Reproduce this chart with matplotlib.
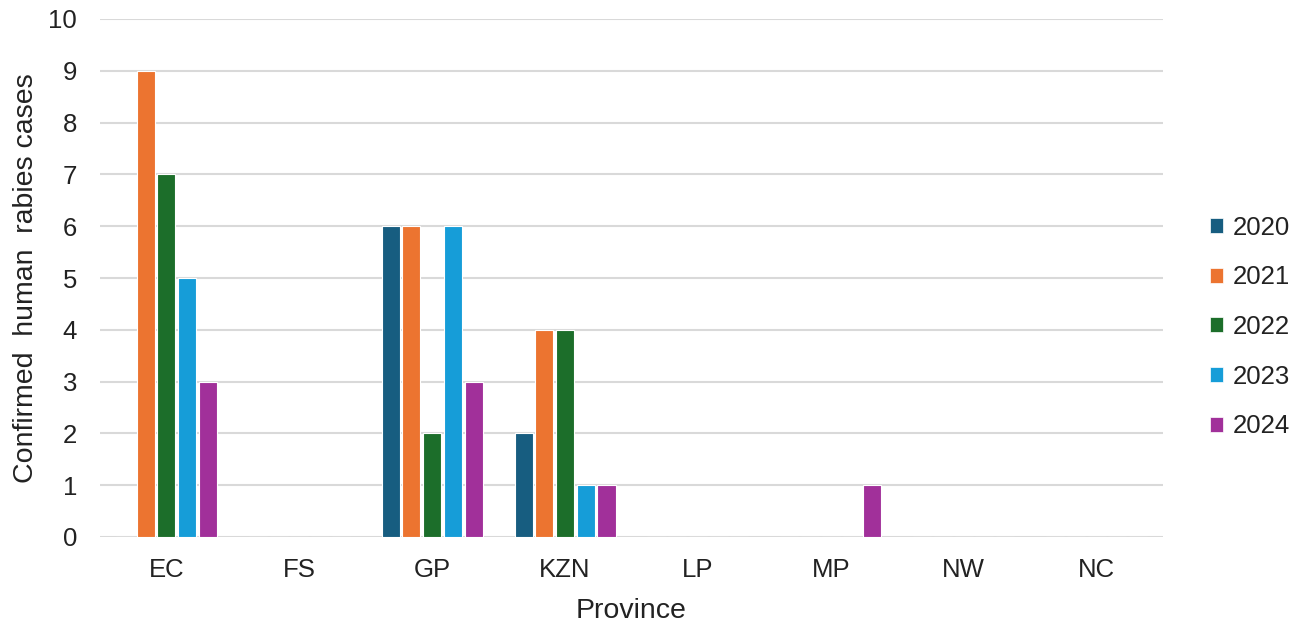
import matplotlib
matplotlib.use("Agg")
import matplotlib.pyplot as plt
import numpy as np
from matplotlib.patches import Patch

provinces = ["EC", "FS", "GP", "KZN", "LP", "MP", "NW", "NC"]
years = ["2020", "2021", "2022", "2023", "2024"]
cases_2020 = [0, 0, 6, 2, 0, 0, 0, 0]
cases_2021 = [9, 0, 6, 4, 0, 0, 0, 0]
cases_2022 = [7, 0, 2, 4, 0, 0, 0, 0]
cases_2023 = [5, 0, 6, 1, 0, 0, 0, 0]
cases_2024 = [3, 0, 3, 1, 0, 1, 0, 0]
series = [cases_2020, cases_2021, cases_2022, cases_2023, cases_2024]
colors = ["#175d80", "#ec7430", "#1c6e2a", "#169dd8", "#a1309a"]

plt.rcParams["font.family"] = ["Liberation Sans", "DejaVu Sans"]
FS = 18.5
LFS = 20.5
TXT = "#222222"

fig = plt.figure(figsize=(13.04, 6.29), dpi=100)
ax = fig.add_axes([100 / 1304, 1 - 537 / 629, 1063 / 1304, 518 / 629])

x = np.arange(len(provinces))
pitch = 0.156
width = 0.136
for i, (vals, col) in enumerate(zip(series, colors)):
    offs = (i - 2) * pitch
    ax.bar(x + offs, vals, width=width, color=col, edgecolor="white",
           linewidth=0.8, zorder=3)

ax.set_xlim(-0.5, len(provinces) - 0.5)
ax.set_ylim(0, 10)
ax.set_yticks(range(0, 11))
ax.set_xticks(x)
ax.set_xticklabels(provinces)
ax.grid(axis="y", color="#d9d9d9", linewidth=1.5, zorder=0)
ax.set_axisbelow(True)
for s in ax.spines.values():
    s.set_visible(False)
ax.tick_params(axis="both", length=0, labelsize=FS, colors=TXT)
ax.tick_params(axis="y", pad=16.5)
ax.tick_params(axis="x", pad=15)

ax.set_ylabel("Confirmed  human  rabies cases", fontsize=LFS, color=TXT, labelpad=7)
ax.set_xlabel("Province", fontsize=LFS, color=TXT, labelpad=12)

handles = [Patch(facecolor=c, edgecolor="white", linewidth=0.5, label=y)
           for y, c in zip(years, colors)]
leg = fig.legend(handles=handles, loc="center left", bbox_to_anchor=(1210 / 1304, 1 - 327 / 629),
                 frameon=False, fontsize=FS, handlelength=0.52, handleheight=0.52,
                 handletextpad=0.36, labelspacing=1.0, borderaxespad=0, borderpad=0)
for t in leg.get_texts():
    t.set_color(TXT)

fig.savefig("out.png", dpi=100)
